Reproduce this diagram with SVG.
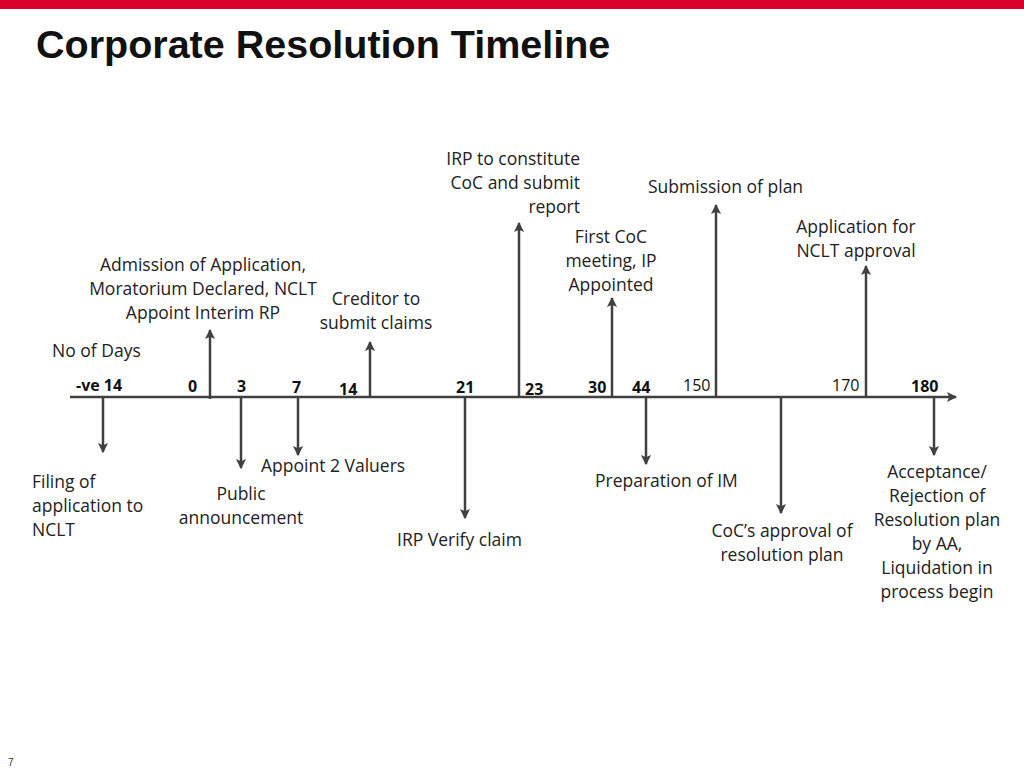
<svg xmlns="http://www.w3.org/2000/svg" width="1024" height="768" viewBox="0 0 1024 768">
<style>
.t{font-family:"Open Sans","Liberation Sans",sans-serif;font-size:17.5px;fill:#222}
.n{font-family:"Open Sans","Liberation Sans",sans-serif;font-size:16px;font-weight:bold;fill:#111}
.r{font-family:"Open Sans","Liberation Sans",sans-serif;font-size:16px;fill:#111}
.l{stroke:#404040;stroke-width:2.5;fill:none}
</style>
<defs><marker id="a" viewBox="0 0 10 10" refX="8" refY="5" markerWidth="4.5" markerHeight="4.5" orient="auto"><path d="M0,0.5 L9,5 L0,9.5 L2,5 Z" fill="#404040"/></marker></defs>
<rect x="0" y="0" width="1024" height="9" fill="#d6002a"/>
<text x="36" y="58" font-family="Liberation Sans,Arial,sans-serif" font-size="39.5" font-weight="bold" fill="#111">Corporate Resolution Timeline</text>
<text x="8" y="766" font-family="Liberation Sans,sans-serif" font-size="10" fill="#333">7</text>
<g id="connectors">
<line class="l" x1="70" y1="397" x2="956" y2="397" marker-end="url(#a)"/>
<line class="l" x1="210" y1="399" x2="210" y2="330" marker-end="url(#a)"/>
<line class="l" x1="370" y1="397" x2="370" y2="342" marker-end="url(#a)"/>
<line class="l" x1="519" y1="397" x2="519" y2="223" marker-end="url(#a)"/>
<line class="l" x1="612" y1="397" x2="612" y2="298" marker-end="url(#a)"/>
<line class="l" x1="716" y1="397" x2="716" y2="205" marker-end="url(#a)"/>
<line class="l" x1="866" y1="397" x2="866" y2="266" marker-end="url(#a)"/>
<line class="l" x1="103" y1="397" x2="103" y2="452" marker-end="url(#a)"/>
<line class="l" x1="241" y1="397" x2="241" y2="468" marker-end="url(#a)"/>
<line class="l" x1="298" y1="397" x2="298" y2="455" marker-end="url(#a)"/>
<line class="l" x1="465" y1="397" x2="465" y2="518" marker-end="url(#a)"/>
<line class="l" x1="646" y1="397" x2="646" y2="464" marker-end="url(#a)"/>
<line class="l" x1="781" y1="397" x2="781" y2="513" marker-end="url(#a)"/>
<line class="l" x1="934" y1="397" x2="934" y2="455" marker-end="url(#a)"/>
</g>
<g id="ticks">
<text class="n" x="76" y="391">-ve 14</text>
<text class="n" x="188" y="392">0</text>
<text class="n" x="237" y="392">3</text>
<text class="n" x="292" y="393">7</text>
<text class="n" x="339" y="395">14</text>
<text class="n" x="456" y="393">21</text>
<text class="n" x="525" y="395">23</text>
<text class="n" x="588" y="393">30</text>
<text class="n" x="632" y="393">44</text>
<text class="r" x="683" y="391">150</text>
<text class="r" x="832" y="391">170</text>
<text class="n" x="911" y="392">180</text>
</g>
<g id="n-days"><text class="t" x="52" y="357">No of Days</text></g>
<g id="n-admission" text-anchor="middle"><text class="t" x="203" y="271">Admission of Application,</text><text class="t" x="203" y="295">Moratorium Declared, NCLT</text><text class="t" x="203" y="319">Appoint Interim RP</text></g>
<g id="n-creditor" text-anchor="middle"><text class="t" x="376" y="305">Creditor to</text><text class="t" x="376" y="329">submit claims</text></g>
<g id="n-irp" text-anchor="end"><text class="t" x="580" y="165">IRP to constitute</text><text class="t" x="580" y="189">CoC and submit</text><text class="t" x="580" y="213">report</text></g>
<g id="n-coc" text-anchor="middle"><text class="t" x="611" y="243">First CoC</text><text class="t" x="611" y="267">meeting, IP</text><text class="t" x="611" y="291">Appointed</text></g>
<g id="n-plan"><text class="t" x="648" y="193">Submission of plan</text></g>
<g id="n-nclt" text-anchor="middle"><text class="t" x="856" y="233">Application for</text><text class="t" x="856" y="257">NCLT approval</text></g>
<g id="n-filing"><text class="t" x="32" y="488">Filing of</text><text class="t" x="32" y="512">application to</text><text class="t" x="32" y="536">NCLT</text></g>
<g id="n-public" text-anchor="middle"><text class="t" x="241" y="500">Public</text><text class="t" x="241" y="524">announcement</text></g>
<g id="n-valuers"><text class="t" x="261" y="472">Appoint 2 Valuers</text></g>
<g id="n-verify"><text class="t" x="397" y="546">IRP Verify claim</text></g>
<g id="n-im"><text class="t" x="595" y="487">Preparation of IM</text></g>
<g id="n-approval" text-anchor="middle"><text class="t" x="782" y="537">CoC’s approval of</text><text class="t" x="782" y="561">resolution plan</text></g>
<g id="n-accept" text-anchor="middle"><text class="t" x="937" y="478">Acceptance/</text><text class="t" x="937" y="502">Rejection of</text><text class="t" x="937" y="526">Resolution plan</text><text class="t" x="937" y="550">by AA,</text><text class="t" x="937" y="574">Liquidation in</text><text class="t" x="937" y="598">process begin</text></g>
</svg>
